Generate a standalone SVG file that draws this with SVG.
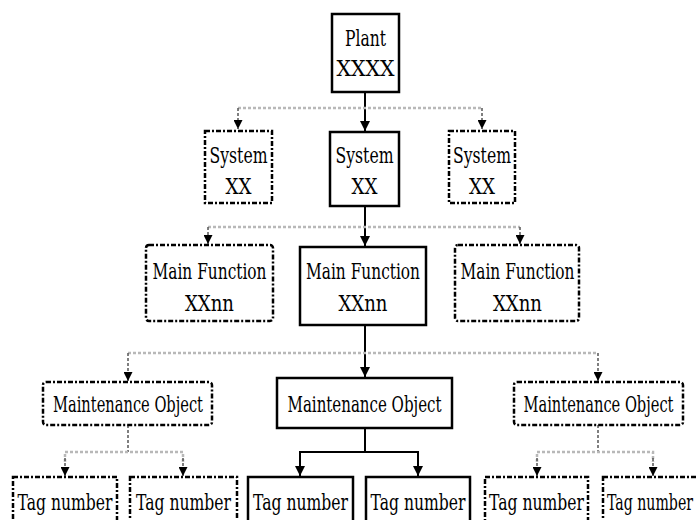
<svg xmlns="http://www.w3.org/2000/svg" width="698" height="520" viewBox="0 0 698 520">
<style>
.solid{fill:#fff;stroke:#000;stroke-width:2.5}
.dash{fill:#fff;stroke:#000;stroke-width:2.5;stroke-dasharray:5 2 2 2}
.t{font-family:"DejaVu Serif","Liberation Serif",serif;font-size:22px;fill:#000;text-anchor:middle}
.c{fill:none;stroke:#000;stroke-width:2}
.g{fill:none;stroke:#b8b8b8;stroke-width:2.5;stroke-dasharray:3 2}
.gv{fill:none;stroke:#555;stroke-width:1.5;stroke-dasharray:3 2}
</style>
<defs>
<marker id="ah" viewBox="0 0 10 10" refX="10" refY="5" markerWidth="5" markerHeight="5" orient="auto" markerUnits="strokeWidth">
<path d="M0,0 L10,5 L0,10 z" fill="#000"/>
</marker>
<marker id="ahs" viewBox="0 0 10 10" refX="10" refY="5" markerWidth="6" markerHeight="6" orient="auto" markerUnits="strokeWidth">
<path d="M0,0 L10,5 L0,10 z" fill="#000"/>
</marker>
</defs>
<g id="connectors">
<line class="c" x1="365" y1="92" x2="365" y2="131" marker-end="url(#ah)"/>
<line class="c" x1="365" y1="206" x2="365" y2="246" marker-end="url(#ah)"/>
<line class="c" x1="365" y1="325" x2="365" y2="377" marker-end="url(#ah)"/>
<polyline class="c" points="365,428 365,452"/>
<polyline class="c" points="300,460 300,452 418,452 418,460"/>
<line class="c" x1="300" y1="455" x2="300" y2="476" marker-end="url(#ah)"/>
<line class="c" x1="418" y1="455" x2="418" y2="476" marker-end="url(#ah)"/>
<line class="g" x1="238" y1="108" x2="482" y2="108"/>
<line class="gv" x1="238" y1="108" x2="238" y2="129" marker-end="url(#ahs)"/>
<line class="gv" x1="482" y1="108" x2="482" y2="129" marker-end="url(#ahs)"/>
<line class="g" x1="208" y1="227" x2="520" y2="227"/>
<line class="gv" x1="208" y1="227" x2="208" y2="244" marker-end="url(#ahs)"/>
<line class="gv" x1="520" y1="227" x2="520" y2="244" marker-end="url(#ahs)"/>
<line class="g" x1="128" y1="353" x2="598" y2="353"/>
<line class="gv" x1="128" y1="353" x2="128" y2="381" marker-end="url(#ahs)"/>
<line class="gv" x1="598" y1="353" x2="598" y2="381" marker-end="url(#ahs)"/>
<line class="gv" x1="128" y1="425" x2="128" y2="452"/>
<polyline class="g" points="65,462 65,452 183,452 183,462"/>
<line class="gv" x1="65" y1="458" x2="65" y2="476" marker-end="url(#ahs)"/>
<line class="gv" x1="183" y1="458" x2="183" y2="476" marker-end="url(#ahs)"/>
<line class="gv" x1="598" y1="425" x2="598" y2="452"/>
<polyline class="g" points="537,462 537,452 653,452 653,462"/>
<line class="gv" x1="537" y1="458" x2="537" y2="476" marker-end="url(#ahs)"/>
<line class="gv" x1="653" y1="458" x2="653" y2="476" marker-end="url(#ahs)"/>
</g>
<g id="plant">
<rect class="solid" x="332" y="14" width="67" height="78"/>
<text class="t" transform="translate(365.5,46) scale(0.7,1)" textLength="58.6" lengthAdjust="spacingAndGlyphs">Plant</text>
<text class="t" transform="translate(365.5,76) scale(0.7,1)" textLength="82.9" lengthAdjust="spacingAndGlyphs">XXXX</text>
</g>
<g id="system-left">
<rect class="dash" x="205" y="131" width="67" height="72"/>
<text class="t" transform="translate(238.5,163) scale(0.7,1)" textLength="82.9" lengthAdjust="spacingAndGlyphs">System</text>
<text class="t" transform="translate(238.5,194) scale(0.7,1)" textLength="37.1" lengthAdjust="spacingAndGlyphs">XX</text>
</g>
<g id="system-mid">
<rect class="solid" x="330" y="132" width="69" height="74"/>
<text class="t" transform="translate(364.5,163) scale(0.7,1)" textLength="82.9" lengthAdjust="spacingAndGlyphs">System</text>
<text class="t" transform="translate(364.5,194) scale(0.7,1)" textLength="37.1" lengthAdjust="spacingAndGlyphs">XX</text>
</g>
<g id="system-right">
<rect class="dash" x="449" y="131" width="66" height="72"/>
<text class="t" transform="translate(482,163) scale(0.7,1)" textLength="82.9" lengthAdjust="spacingAndGlyphs">System</text>
<text class="t" transform="translate(482,194) scale(0.7,1)" textLength="37.1" lengthAdjust="spacingAndGlyphs">XX</text>
</g>
<g id="mainfunction-left">
<rect class="dash" x="146" y="245" width="127" height="76" rx="3"/>
<text class="t" transform="translate(209.5,279) scale(0.7,1)" textLength="162.9" lengthAdjust="spacingAndGlyphs">Main Function</text>
<text class="t" transform="translate(209.5,311) scale(0.7,1)" textLength="70" lengthAdjust="spacingAndGlyphs">XXnn</text>
</g>
<g id="mainfunction-mid">
<rect class="solid" x="300" y="247" width="126" height="78"/>
<text class="t" transform="translate(363,279) scale(0.7,1)" textLength="162.9" lengthAdjust="spacingAndGlyphs">Main Function</text>
<text class="t" transform="translate(363,311) scale(0.7,1)" textLength="70" lengthAdjust="spacingAndGlyphs">XXnn</text>
</g>
<g id="mainfunction-right">
<rect class="dash" x="455" y="245" width="124" height="76" rx="3"/>
<text class="t" transform="translate(517.5,279) scale(0.7,1)" textLength="162.9" lengthAdjust="spacingAndGlyphs">Main Function</text>
<text class="t" transform="translate(517.5,311) scale(0.7,1)" textLength="70" lengthAdjust="spacingAndGlyphs">XXnn</text>
</g>
<g id="mo-left">
<rect class="dash" x="43" y="382" width="169" height="43" rx="3"/>
<text class="t" transform="translate(128,412) scale(0.7,1)" textLength="214.3" lengthAdjust="spacingAndGlyphs">Maintenance Object</text>
</g>
<g id="mo-mid">
<rect class="solid" x="277" y="378" width="175" height="50"/>
<text class="t" transform="translate(364.5,412) scale(0.7,1)" textLength="220" lengthAdjust="spacingAndGlyphs">Maintenance Object</text>
</g>
<g id="mo-right">
<rect class="dash" x="514" y="382" width="169" height="43" rx="3"/>
<text class="t" transform="translate(598.5,412) scale(0.7,1)" textLength="214.3" lengthAdjust="spacingAndGlyphs">Maintenance Object</text>
</g>
<g id="tag-1">
<rect class="dash" x="13" y="477" width="104" height="60"/>
<text class="t" transform="translate(65,510) scale(0.7,1)" textLength="135.7" lengthAdjust="spacingAndGlyphs">Tag number</text>
</g>
<g id="tag-2">
<rect class="dash" x="130" y="477" width="107" height="60"/>
<text class="t" transform="translate(183.5,510) scale(0.7,1)" textLength="135.7" lengthAdjust="spacingAndGlyphs">Tag number</text>
</g>
<g id="tag-3">
<rect class="solid" x="248" y="477" width="105" height="60"/>
<text class="t" transform="translate(300.5,510) scale(0.7,1)" textLength="135.7" lengthAdjust="spacingAndGlyphs">Tag number</text>
</g>
<g id="tag-4">
<rect class="solid" x="366" y="477" width="104" height="60"/>
<text class="t" transform="translate(418,510) scale(0.7,1)" textLength="135.7" lengthAdjust="spacingAndGlyphs">Tag number</text>
</g>
<g id="tag-5">
<rect class="dash" x="485" y="477" width="103" height="60"/>
<text class="t" transform="translate(536.5,510) scale(0.7,1)" textLength="135.7" lengthAdjust="spacingAndGlyphs">Tag number</text>
</g>
<g id="tag-6">
<rect class="dash" x="603" y="477" width="107" height="60"/>
<text class="t" transform="translate(650,510) scale(0.7,1)" textLength="122.9" lengthAdjust="spacingAndGlyphs">Tag number</text>
</g>
</svg>
